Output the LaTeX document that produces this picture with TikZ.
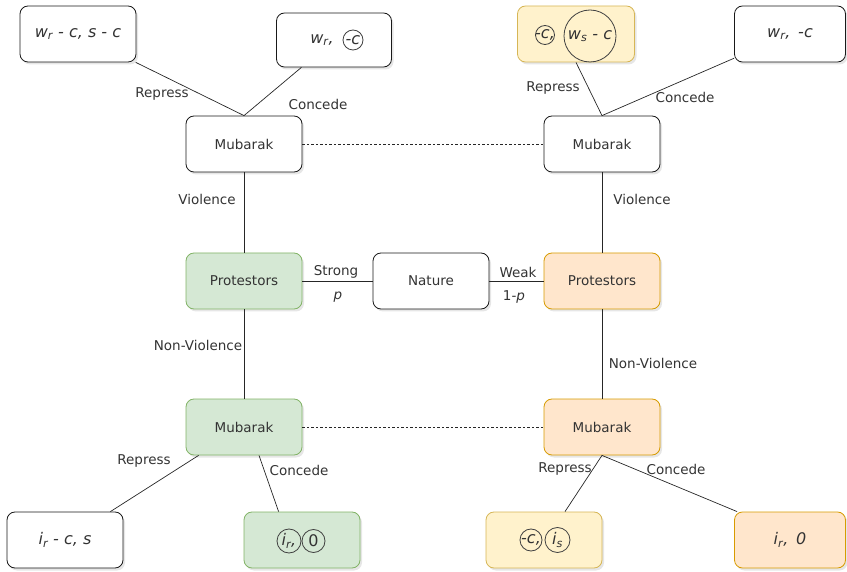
\documentclass[tikz,border=0pt]{standalone}
\usepackage{fontspec}
\setmainfont{DejaVu Sans}
\usetikzlibrary{positioning,shadows}
\definecolor{grnfill}{HTML}{D5E8D4}
\definecolor{grnline}{HTML}{82B366}
\definecolor{orgfill}{HTML}{FFE6CC}
\definecolor{orgline}{HTML}{D79B00}
\definecolor{ylwfill}{HTML}{FFF2CC}
\definecolor{ylwline}{HTML}{D6B656}
\definecolor{txtgray}{HTML}{333333}

\begin{document}
\begin{tikzpicture}
[x=1pt,y=-1pt,-,%
  every node/.style={text=txtgray},%
  box/.style={rectangle,rounded corners=8pt,draw=black!90,line width=0.8pt,fill=white,
    minimum width=116pt,minimum height=56pt,inner sep=0pt,
    drop shadow={shadow xshift=2pt,shadow yshift=-2.5pt,opacity=0.2}},%
  grnbox/.style={box,fill=grnfill,draw=grnline},%
  orgbox/.style={box,fill=orgfill,draw=orgline},%
  ylwbox/.style={box,fill=ylwfill,draw=ylwline},%
  pay/.style={font=\fontsize{16}{19}\selectfont\itshape},%
  ring/.style={circle,draw=black!75,line width=0.8pt,inner sep=-5pt,minimum size=22pt,
    font=\fontsize{16}{19}\selectfont\itshape},%
  branch/.style={draw=black!85,line width=0.7pt},%
  info/.style={draw=black!85,line width=0.7pt,dash pattern=on 2.5pt off 2pt}]
\fontsize{13.5}{16}\selectfont
\useasboundingbox (0,0) rectangle (847,572);

\node[box] (mTL) at (244,144) {Mubarak};
\node[box] (mTR) at (602,144) {Mubarak};
\node[grnbox] (pL) at (244,281) {Protestors};
\node[box] (nat) at (431,281) {Nature};
\node[orgbox] (pR) at (602,281) {Protestors};
\node[grnbox] (mBL) at (244,427) {Mubarak};
\node[orgbox] (mBR) at (602,427) {Mubarak};

\node[box,pay] (oA) at (78,34) {w\textsubscript{r} - c, s - c};
\node[box,minimum width=115pt,minimum height=54pt] (oB) at (334,40) {};
\node[pay] (oBtxt) at (322,40) {w\textsubscript{r},};
\node[ring,minimum size=20pt] (oBring) at (353,40) {-c};
\node[ylwbox,minimum width=117pt] (oC) at (576,34) {};
\node[ring,minimum size=19pt] (oCring1) at (545,35) {-c,};
\node[ring,minimum size=52pt] (oCring2) at (590,36) {w\textsubscript{s} - c};
\node[box,pay,minimum width=111pt] (oD) at (790,34) {w\textsubscript{r},\, -c};

\node[box,pay] (oE) at (65,540) {i\textsubscript{r} - c, s};
\node[grnbox] (oF) at (302,540) {};
\node[ring,minimum size=24pt] (oFring1) at (289,541) {i\textsubscript{r},};
\node[ring,minimum size=23pt,font=\fontsize{16}{19}\selectfont] (oFring2) at (313.5,541) {0};
\node[ylwbox] (oG) at (544,540) {};
\node[ring] (oGring1) at (531,540) {-c,};
\node[ring,minimum size=25pt] (oGring2) at (557.5,540) {i\textsubscript{s}};
\node[orgbox,pay,minimum width=111pt] (oH) at (790,540) {i\textsubscript{r},\, 0};

\draw[branch] (mTL.north) -- (oA);
\draw[branch] (mTL.north) -- (oB);
\draw[branch] (mTR.north) -- (oC.south);
\draw[branch] (mTR.north) -- (oD);
\draw[info] (mTL) -- (mTR);
\draw[branch] (mTL) -- (pL);
\draw[branch] (mTR) -- (pR);
\draw[branch] (pL) -- (nat);
\draw[branch] (nat) -- (pR);
\draw[branch] (pL) -- (mBL);
\draw[branch] (pR) -- (mBR);
\draw[info] (mBL) -- (mBR);
\draw[branch] ([xshift=13pt]mBL.south west) -- ([xshift=-13pt]oE.north east);
\draw[branch] ([xshift=15pt]mBL.south) -- ([xshift=35pt]oF.north west);
\draw[branch] (mBR.south) -- ([xshift=21pt]oG.north);
\draw[branch] (mBR.south) -- ([xshift=3pt]oH.north west);

\node (lRepTL) at (162,94) {Repress};
\node (lConTL) at (318,104) {Concede};
\node (lRepTR) at (553,88) {Repress};
\node (lConTR) at (685,97) {Concede};
\node (lVioL) at (207,199) {Violence};
\node (lVioR) at (642,199) {Violence};
\node (lStr) at (336,272) {Strong};
\node (lp) at (338,297) {\itshape p};
\node (lWeak) at (518,272) {Weak};
\node (l1p) at (514,297) {1-\textit{p}};
\node (lNonL) at (198,345) {Non-Violence};
\node (lNonR) at (653,363) {Non-Violence};
\node (lRepBL) at (144,461) {Repress};
\node (lConBL) at (299,470) {Concede};
\node (lRepBR) at (565,469) {Repress};
\node (lConBR) at (676,469) {Concede};
\end{tikzpicture}
\end{document}
